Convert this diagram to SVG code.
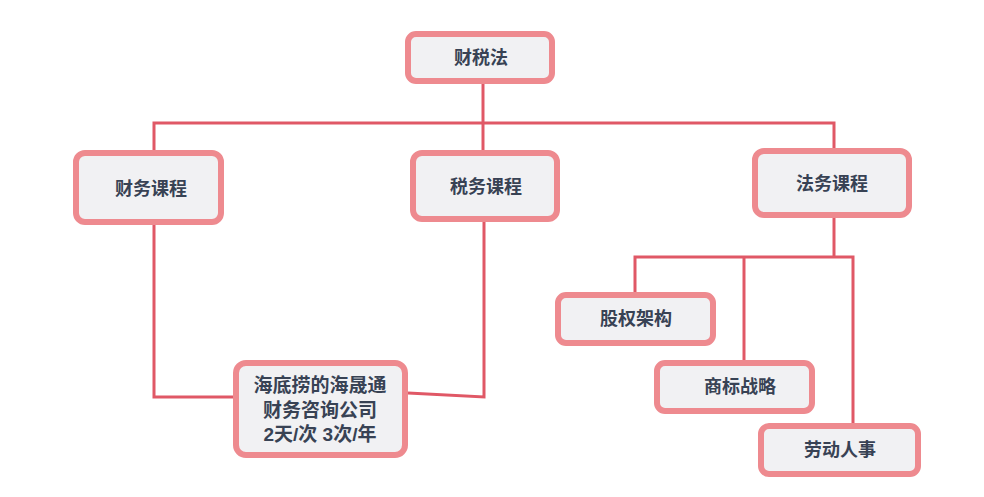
<svg xmlns="http://www.w3.org/2000/svg" width="984" height="497" viewBox="0 0 984 497">
<style>
.box{fill:#f1f1f3;stroke:#ee8a8f;stroke-width:6}
.lbl{font-family:"Liberation Sans","Noto Sans CJK SC",sans-serif;font-size:18px;font-weight:bold;fill:#384254;text-anchor:middle;dominant-baseline:central}
.big{font-size:19px}
.ln{fill:none;stroke:#e05866;stroke-width:3}
</style>
<rect width="984" height="497" fill="#ffffff"/>
<g id="connectors">
<polyline class="ln" points="483,84 483,123"/>
<polyline class="ln" points="154,150 154,123 834,123 834,148"/>
<polyline class="ln" points="483,123 483,150"/>
<polyline class="ln" points="154,225 154,397 233,397"/>
<polyline class="ln" points="484,222 484,397 408,393"/>
<polyline class="ln" points="834,218 834,257"/>
<polyline class="ln" points="635,292 635,257 853,257 853,423"/>
<polyline class="ln" points="744,257 744,360"/>
</g>
<g id="n-caishuifa"><rect class="box" x="408" y="34" width="144" height="47" rx="8"/><text class="lbl" x="481" y="58">财税法</text></g>
<g id="n-caiwu"><rect class="box" x="76" y="153" width="145" height="69" rx="9"/><text class="lbl" x="151" y="189">财务课程</text></g>
<g id="n-shuiwu"><rect class="box" x="413" y="153" width="144" height="66" rx="9"/><text class="lbl" x="486" y="187">税务课程</text></g>
<g id="n-fawu"><rect class="box" x="755" y="151" width="154" height="64" rx="9"/><text class="lbl" x="832" y="184">法务课程</text></g>
<g id="n-guquan"><rect class="box" x="558" y="295" width="155" height="48" rx="8"/><text class="lbl" x="636" y="319">股权架构</text></g>
<g id="n-shangbiao"><rect class="box" x="657" y="363" width="155" height="48" rx="8"/><text class="lbl" x="740" y="387">商标战略</text></g>
<g id="n-laodong"><rect class="box" x="761" y="426" width="157" height="48" rx="8"/><text class="lbl" x="840" y="450">劳动人事</text></g>
<g id="n-haidilao"><rect class="box" x="236" y="363" width="169" height="92" rx="10"/>
<text class="lbl big" x="320" y="385">海底捞的海晟通</text>
<text class="lbl big" x="320" y="410">财务咨询公司</text>
<text class="lbl big" x="320" y="434">2天/次  3次/年</text></g>
</svg>
